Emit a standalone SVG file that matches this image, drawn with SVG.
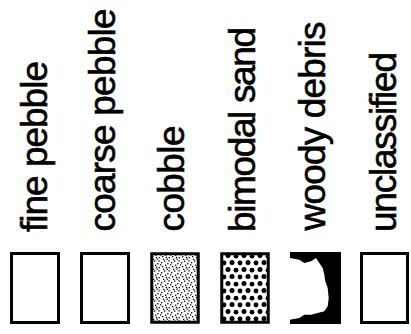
<svg xmlns="http://www.w3.org/2000/svg" width="411" height="334" viewBox="0 0 411 334">
  <style>
    .lbl { font-family: "Liberation Sans", Arial, Helvetica, sans-serif; font-size: 37px; fill: #000; stroke: #000; stroke-width: 0.6; }
    .box { stroke: #000; stroke-width: 3; }
    .plain { fill: #fff; }
  </style>
  <defs>
    <pattern id="stipple" width="10" height="10" patternUnits="userSpaceOnUse">
      <rect width="10" height="10" fill="#fff"/>
      <g fill="#000">
        <rect x="1" y="2" width="1.3" height="1.3"/>
        <rect x="4" y="0.5" width="1.3" height="1.3"/>
        <rect x="7.2" y="3" width="1.3" height="1.3"/>
        <rect x="8.6" y="7" width="1.3" height="1.3"/>
        <rect x="2" y="6" width="1.3" height="1.3"/>
        <rect x="5" y="4.6" width="1.3" height="1.3"/>
        <rect x="6.5" y="8.5" width="1.3" height="1.3"/>
        <rect x="3" y="8.8" width="1.3" height="1.3"/>
        <rect x="0" y="4.2" width="1.3" height="1.3"/>
        <rect x="5.8" y="6.8" width="1.3" height="1.3"/>
        <rect x="8.4" y="0.2" width="1.3" height="1.3"/>
      </g>
    </pattern>
    <pattern id="sand" width="16" height="14" patternUnits="userSpaceOnUse">
      <rect width="16" height="14" fill="#fff"/>
      <g fill="#000">
        <circle cx="4" cy="3.5" r="2.5"/>
        <circle cx="12" cy="4.2" r="2.4"/>
        <circle cx="8" cy="10.5" r="2.5"/>
        <circle cx="0" cy="11" r="2.4"/>
        <circle cx="16" cy="11" r="2.4"/>
      </g>
    </pattern>
  </defs>

  <g id="connectors"/>

  <g id="fine-pebble">
    <text class="lbl" transform="translate(47,232) rotate(-90)" textLength="171" lengthAdjust="spacing">fine pebble</text>
    <rect class="box plain" x="11.5" y="253.5" width="47" height="69"/>
  </g>

  <g id="coarse-pebble">
    <text class="lbl" transform="translate(115,231.5) rotate(-90)" textLength="223" lengthAdjust="spacing">coarse pebble</text>
    <rect class="box plain" x="81.5" y="253.5" width="47" height="69"/>
  </g>

  <g id="cobble">
    <text class="lbl" transform="translate(184,231.5) rotate(-90)" textLength="106" lengthAdjust="spacing">cobble</text>
    <rect class="box" x="151.75" y="253.75" width="46.5" height="68.5" fill="url(#stipple)" stroke-width="3.5"/>
  </g>

  <g id="bimodal-sand">
    <text class="lbl" transform="translate(255,232) rotate(-90)" textLength="205" lengthAdjust="spacing">bimodal sand</text>
    <rect class="box" x="221.75" y="253.75" width="46.5" height="68.5" fill="url(#sand)" stroke-width="3.5"/>
  </g>

  <g id="woody-debris">
    <text class="lbl" transform="translate(325,230.5) rotate(-90)" textLength="209" lengthAdjust="spacing">woody debris</text>
    <rect x="290" y="252" width="51" height="72" fill="#000"/>
    <path fill="#fff" d="M290,258 L299.3,259.7 L304.3,263 L311,261.3 L316,258 L319.3,263 L322.7,268 L324.3,274.7 L325.3,281.3 L327.7,288 L328.7,298 L327.7,306.3 L324.3,311.3 L317.7,313 L311,314.7 L304.3,314.7 L299.3,318 L290,319.7 Z"/>
  </g>

  <g id="unclassified">
    <text class="lbl" transform="translate(396,232) rotate(-90)" textLength="180" lengthAdjust="spacing">unclassified</text>
    <rect class="box plain" x="361.5" y="253.5" width="46" height="69"/>
  </g>
</svg>
